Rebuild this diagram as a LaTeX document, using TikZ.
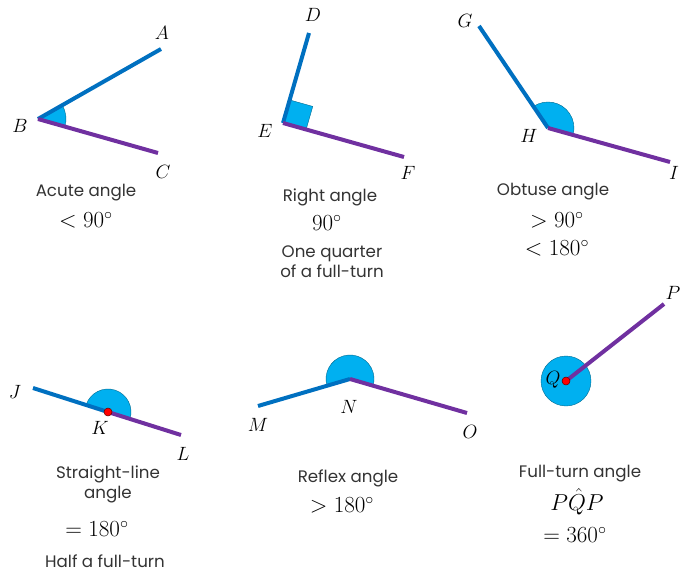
\documentclass[tikz,border=0pt]{standalone}
\usepackage{fontspec}
\setmainfont{Poppins}
\usetikzlibrary{calc}
\definecolor{armblue}{HTML}{0070C0}
\definecolor{armpurple}{HTML}{7030A0}
\definecolor{wedgecyan}{HTML}{00B0F0}
\begin{document}
\begin{tikzpicture}[
    x=0.75pt, y=-0.75pt,
    arm/.style={line width=3pt, draw=armblue},
    armp/.style={line width=3pt, draw=armpurple},
    wedge/.style={fill=wedgecyan, draw=wedgecyan!60!black, line width=0.3pt},
    ptlabel/.style={font=\fontsize{15}{17}\selectfont, inner sep=0pt},
    caption/.style={font=\fontsize{12.5}{15}\selectfont, text=black!80, align=center, inner sep=0pt},
    value/.style={font=\fontsize{16.5}{18}\selectfont, inner sep=0pt},
    vertexdot/.style={circle, fill=red, draw=red!40!black, line width=0.4pt, inner sep=0pt, minimum size=6pt}
]
\useasboundingbox (0,0) rectangle (680,573);

% --- Acute angle ---
\coordinate (B) at (38,119);
\coordinate (A) at (161,49);
\coordinate (C) at (158,153);
\filldraw[wedge] (B) -- ++(-29.6:28) arc[start angle=-29.6, end angle=15.8, radius=28] -- cycle;
\draw[arm] (B) -- (A);
\draw[armp] (B) -- (C);
\node[ptlabel] (lA) at (162,33) {$A$};
\node[ptlabel] (lB) at (20,126) {$B$};
\node[ptlabel] (lC) at (163,172) {$C$};
\node[caption] (acute) at (86,193) {Acute angle};
\node[value] (acuteval) at (86,220) {$<90^\circ$};

% --- Right angle ---
\coordinate (E) at (283,123);
\coordinate (D) at (309,33);
\coordinate (F) at (404,157);
\coordinate (sqD) at ($(E)!18pt!(D)$);
\coordinate (sqF) at ($(E)!18pt!(F)$);
\filldraw[wedge] (E) -- (sqD) -- ($(sqD)+(sqF)-(E)$) -- (sqF) -- cycle;
\draw[arm] (E) -- (D);
\draw[armp] (E) -- (F);
\node[ptlabel] (lD) at (313,15) {$D$};
\node[ptlabel] (lE) at (265,131) {$E$};
\node[ptlabel] (lF) at (408,173) {$F$};
\node[caption] (right) at (330,197) {Right angle};
\node[value] (rightval) at (327,223) {$90^\circ$};
\node[caption] (quarter) at (332,262) {One quarter\\of a full-turn};

% --- Obtuse angle ---
\coordinate (H) at (548,128);
\coordinate (G) at (479,26);
\coordinate (I) at (670,162);
\filldraw[wedge] (H) -- ++(-124.1:26) arc[start angle=-124.1, end angle=15.6, radius=26] -- cycle;
\draw[arm] (H) -- (G);
\draw[armp] (H) -- (I);
\node[ptlabel] (lG) at (465,21) {$G$};
\node[ptlabel] (lH) at (529,136) {$H$};
\node[ptlabel] (lI) at (674,173) {$I$};
\node[caption] (obtuse) at (553,192) {Obtuse angle};
\node[value] (obtuseval) at (557,220) {$>90^\circ$};
\node[value] (obtusemax) at (557,248) {$<180^\circ$};

% --- Straight-line angle ---
\coordinate (K) at (108,412);
\coordinate (J) at (33,388);
\coordinate (L) at (181,435);
\filldraw[wedge] (K) -- ++(-162.3:23) arc[start angle=-162.3, end angle=17.5, radius=23] -- cycle;
\draw[arm] (K) -- (J);
\draw[armp] (K) -- (L);
\node[vertexdot] (Kdot) at (K) {};
\node[ptlabel] (lJ) at (15,392) {$J$};
\node[ptlabel] (lK) at (100,428) {$K$};
\node[ptlabel] (lL) at (183,454) {$L$};
\node[caption] (straight) at (108,484) {Straight-line\\angle};
\node[value] (straightval) at (97,529) {$=180^\circ$};
\node[caption] (half) at (105,561) {Half a full-turn};

% --- Reflex angle ---
\coordinate (N) at (350,379);
\coordinate (M) at (258,406);
\coordinate (O) at (467,413);
\filldraw[wedge] (N) -- ++(-196.4:24) arc[start angle=-196.4, end angle=16.2, radius=24] -- cycle;
\draw[arm] (N) -- (M);
\draw[armp] (N) -- (O);
\node[ptlabel] (lM) at (258,425) {$M$};
\node[ptlabel] (lN) at (349,407) {$N$};
\node[ptlabel] (lO) at (470,432) {$O$};
\node[caption] (reflex) at (348,478) {Reflex angle};
\node[value] (reflexval) at (342,505) {$>180^\circ$};

% --- Full-turn angle ---
\coordinate (Q) at (566,381);
\coordinate (P) at (664,304);
\filldraw[wedge] (Q) circle[radius=25];
\draw[armp] (Q) -- (P);
\node[vertexdot] (Qdot) at (Q) {};
\node[ptlabel] (lP) at (673,293) {$P$};
\node[ptlabel] (lQ) at (553,380) {$Q$};
\node[caption] (fullturn) at (580,474) {Full-turn angle};
\node[value] (fullname) at (577,502) {$P\hat{Q}P$};
\node[value] (fullval) at (575,535) {$=360^\circ$};

\end{tikzpicture}
\end{document}
